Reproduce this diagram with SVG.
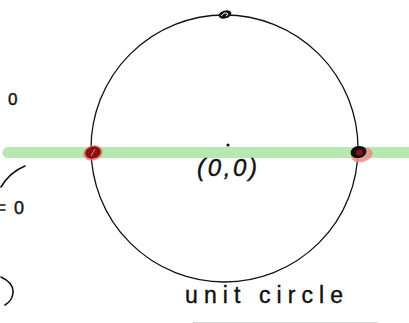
<svg xmlns="http://www.w3.org/2000/svg" width="409" height="323" viewBox="0 0 409 323">
<style>
.ink{fill:none;stroke:#111;stroke-width:1.6;stroke-linecap:round;stroke-linejoin:round}
.hand{font-family:"Liberation Sans",Arial,sans-serif;fill:#111;stroke:#111;stroke-width:0.4}
</style>
<rect width="409" height="323" fill="#fff"/>
<g id="axis">
<line x1="8" y1="152.5" x2="409" y2="152.5" stroke="#b7e8b1" stroke-width="11" stroke-linecap="round"/>
</g>
<g id="circle">
<circle cx="224.5" cy="148.5" r="133.5" fill="none" stroke="#111" stroke-width="1.3"/>
</g>
<g id="point-left">
<ellipse cx="93" cy="153" rx="10" ry="7.5" fill="#e87a7a" opacity="0.8" transform="rotate(-15 93 153)"/>
<ellipse cx="93" cy="152.5" rx="8" ry="6" fill="#8e1010" transform="rotate(-15 93 152.5)"/>
<path d="M91 156 L95 149" stroke="#e8a0a0" stroke-width="0.8" fill="none"/>
</g>
<g id="point-right">
<ellipse cx="362" cy="155" rx="11" ry="7" fill="#ef8a8a" opacity="0.85" transform="rotate(-15 362 155)"/>
<ellipse cx="358.5" cy="152" rx="8" ry="6" fill="#111" transform="rotate(-10 358.5 152)"/>
<ellipse cx="359.5" cy="152.5" rx="3.5" ry="3" fill="#8e1010"/>
</g>
<g id="point-top">
<ellipse cx="225" cy="14.5" rx="6.5" ry="4" fill="#111" transform="rotate(-15 225 14.5)"/>
<path d="M221 16 Q224 12 227 13 Q229 15 226 16" stroke="#fff" stroke-width="1" fill="none"/>
</g>
<g id="origin">
<circle cx="228" cy="145" r="1.6" fill="#111"/>
<text class="hand" x="197" y="176" font-size="24" font-style="italic" textLength="60">(0,0)</text>
</g>
<g id="label">
<text class="hand" x="185" y="303" font-size="23" textLength="158">unit circle</text>
</g>
<g id="margin">
<text class="hand" x="8" y="105" font-size="17" stroke-width="0.2">0</text>
<path class="ink" d="M1 187 Q10 172 25 166"/>
<path class="ink" d="M0 205 L5 205 M0 210 L5 210"/>
<text class="hand" x="14" y="214" font-size="18">0</text>
<path class="ink" d="M1 277 Q14 283 13 293 Q12 301 5 305"/>
</g>
<line x1="193" y1="322.5" x2="378" y2="322.5" stroke="#d8d8d8" stroke-width="1"/>
</svg>
